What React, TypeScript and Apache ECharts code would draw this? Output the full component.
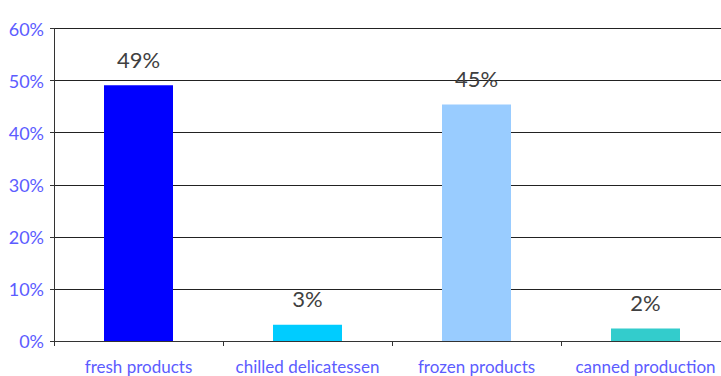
import React, { useEffect, useRef } from "react";
import * as echarts from "echarts";

const categories = ["fresh products", "chilled delicatessen", "frozen products", "canned production"];
const values = [49.1, 3.1, 45.4, 2.4];
const barColors = ["#0000FF", "#00CCFF", "#99CCFF", "#33CCCC"];
const yTicks = [0, 10, 20, 30, 40, 50, 60];

const FONT = "Lato, 'Noto Sans', sans-serif";

export default function App() {
  const ref = useRef<HTMLDivElement>(null);
  useEffect(() => {
    if (!ref.current) return;
    const chart = echarts.init(ref.current, null, { renderer: "svg" });
    chart.setOption({
      animation: false,
      backgroundColor: "#ffffff",
      grid: { left: 54, top: 28.5, bottom: 35, right: 0, containLabel: false },
      xAxis: {
        type: "category",
        data: categories,
        axisLine: { show: true, lineStyle: { color: "#333333", width: 1 } },
        axisTick: { show: true, length: 5, lineStyle: { color: "#333333" } },
        axisLabel: { color: "#5c5cff", fontSize: 17, fontFamily: FONT, margin: 17, interval: 0 },
      },
      yAxis: {
        type: "value",
        min: yTicks[0],
        max: yTicks[yTicks.length - 1],
        interval: 10,
        axisLine: { show: true, lineStyle: { color: "#333333", width: 1 } },
        axisTick: { show: true, length: 4, lineStyle: { color: "#333333" } },
        axisLabel: { color: "#5c5cff", fontSize: 18, fontFamily: FONT, margin: 10, formatter: "{value}%" },
        splitLine: { show: true, lineStyle: { color: "#222222", width: 1 } },
      },
      series: [
        {
          type: "bar",
          barWidth: 69,
          data: values.map((v, i) => ({ value: v, itemStyle: { color: barColors[i] } })),
          label: {
            show: true,
            position: "top",
            distance: 15,
            color: "#404040",
            fontSize: 22,
            fontFamily: FONT,
            formatter: (p: any) => Math.round(p.value) + "%",
          },
        },
      ],
    });
    return () => chart.dispose();
  }, []);
  return (
    <div style={{ position: "fixed", left: 0, top: 0, width: 721, height: 376, overflow: "hidden", background: "#fff" }}>
      <div ref={ref} style={{ width: 730, height: 376 }} />
    </div>
  );
}
